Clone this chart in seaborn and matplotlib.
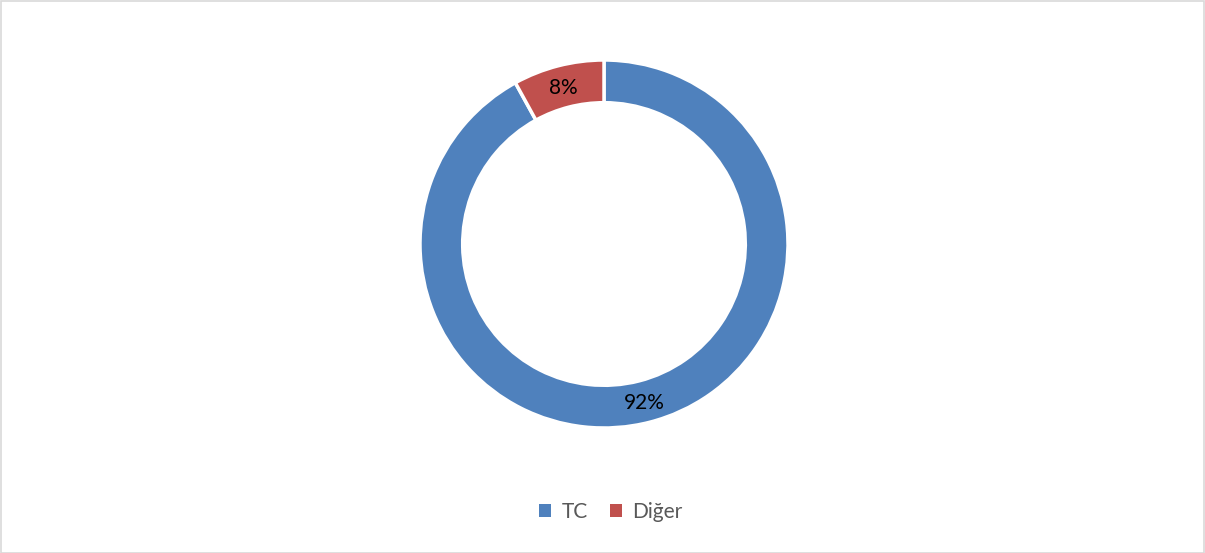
import matplotlib
matplotlib.use("Agg")
import matplotlib.pyplot as plt
import seaborn as sns
import numpy as np
from matplotlib.patches import Rectangle, Patch

# data
labels = ["TC", "Diğer"]
values = [92, 8]
colors = ["#4F81BD", "#C0504D"]

sns.set_theme(style="white")
plt.rcParams['font.family'] = ['Lato', 'DejaVu Sans']

W, H = 1205, 553
fig = plt.figure(figsize=(W / 100, H / 100), dpi=100)

# donut geometry in pixels
cx, cy, r = 604, H - 244, 184
ax = fig.add_axes([(cx - r) / W, (cy - r) / H, 2 * r / W, 2 * r / H])

ring = 0.232
wedges, texts = ax.pie(values, colors=colors, startangle=90, counterclock=False,
                       radius=1.0,
                       wedgeprops=dict(width=ring, edgecolor="white", linewidth=2.5))
ax.set_xlim(-1, 1)
ax.set_ylim(-1, 1)
ax.axis("off")

# percent labels in the middle of the ring
total = sum(values)
for v, w in zip(values, wedges):
    mid = np.deg2rad((w.theta1 + w.theta2) / 2)
    rr = 1 - ring / 2
    ax.text(rr * np.cos(mid), rr * np.sin(mid) - 0.01, f"{round(v / total * 100)}%",
            ha="center", va="center", fontsize=15, color="black")

handles = [Patch(facecolor=c, edgecolor="none") for c in colors]
fig.legend(handles, labels, loc="center", bbox_to_anchor=(611 / W, 1 - 512 / H),
           ncol=2, frameon=False, fontsize=15, handlelength=0.55, handleheight=0.55,
           handletextpad=0.5, columnspacing=1.1, labelcolor="#595959")

fig.patches.append(Rectangle((0.5 / W, 0.5 / H), 1 - 1.5 / W, 1 - 1.5 / H,
                             transform=fig.transFigure, fill=False,
                             edgecolor="#D9D9D9", linewidth=1.2))

fig.savefig("out.png", dpi=100)
